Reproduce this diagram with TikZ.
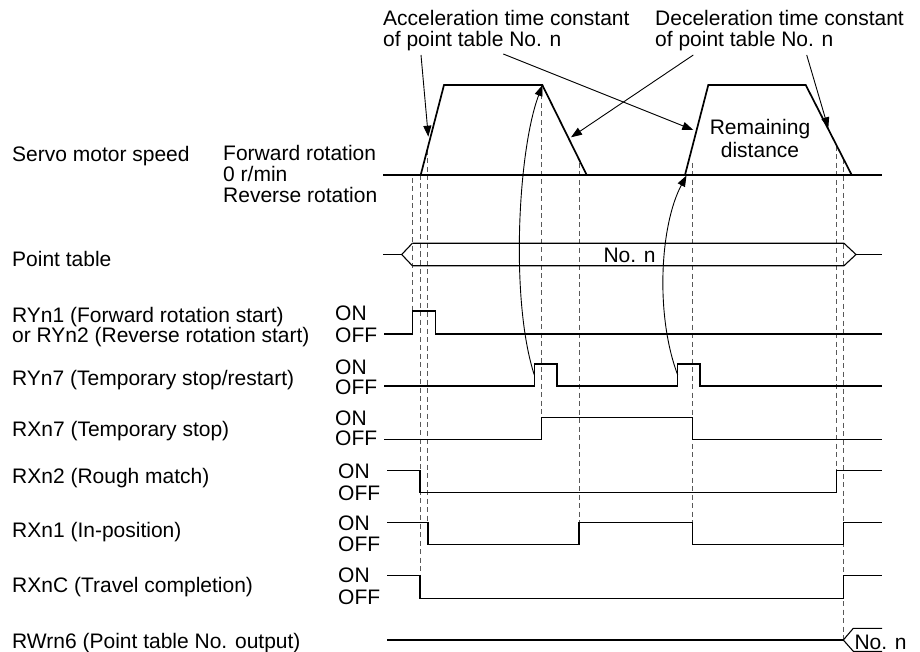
\documentclass[tikz,border=0pt]{standalone}
\usepackage{fontspec}
\setmainfont{Liberation Sans}
\usetikzlibrary{arrows.meta}

\tikzset{
  lbl/.style={anchor=base west, inner sep=0pt, font=\fontsize{21}{21}\selectfont},
  ctr/.style={anchor=base, inner sep=0pt, font=\fontsize{21}{21}\selectfont},
  axis/.style={line width=1.1pt},
  sig/.style={line width=1.3pt},
  prof/.style={line width=1.7pt, line join=miter},
  guide/.style={line width=1pt, draw=black!65, dash pattern=on 5pt off 3.5pt},
  ann/.style={line width=0.9pt, -{Triangle[length=11pt,width=8pt]}},
}

\begin{document}
\begin{tikzpicture}[x=1pt,y=-1pt]
\useasboundingbox (0,0) rectangle (920,652);

% Textos de la izquierda
\node[lbl] (spd) at (12,162) {Servo motor speed};
\node[lbl] (fwd) at (223,161) {Forward rotation};
\node[lbl] (zero) at (223,182) {0 r/min};
\node[lbl] (rev) at (223,203) {Reverse rotation};
\node[lbl] (ptab) at (12,266) {Point table};
\node[lbl] (ry1) at (12,322.5) {RYn1 (Forward rotation start)};
\node[lbl] (ry2) at (12,342.5) {or RYn2 (Reverse rotation start)};
\node[lbl] (ry7) at (12,385) {RYn7 (Temporary stop/restart)};
\node[lbl] (rx7) at (12,436.7) {RXn7 (Temporary stop)};
\node[lbl] (rx2) at (12,483.3) {RXn2 (Rough match)};
\node[lbl] (rx1) at (12,537.3) {RXn1 (In-position)};
\node[lbl] (rxc) at (12,592.7) {RXnC (Travel completion)};
\node[lbl] (rw6) at (12,648.3) {RWrn6 (Point table No. output)};

% ON / OFF
\node[lbl] (on1) at (335,320.7) {ON};
\node[lbl] (off1) at (335,342.3) {OFF};
\node[lbl] (on2) at (335,374.3) {ON};
\node[lbl] (off2) at (335,394) {OFF};
\node[lbl] (on3) at (335,425) {ON};
\node[lbl] (off3) at (335,445) {OFF};
\node[lbl] (on4) at (338,478.3) {ON};
\node[lbl] (off4) at (338,500) {OFF};
\node[lbl] (on5) at (338,530) {ON};
\node[lbl] (off5) at (338,551.7) {OFF};
\node[lbl] (on6) at (338,582.7) {ON};
\node[lbl] (off6) at (338,604) {OFF};

% Textos de arriba
\node[lbl] (acc1) at (383,26) {Acceleration time constant};
\node[lbl] (acc2) at (383,47) {of point table No. n};
\node[lbl] (dec1) at (655,26) {Deceleration time constant};
\node[lbl] (dec2) at (655,47) {of point table No. n};
\node[ctr] (rem1) at (760,135) {Remaining};
\node[ctr] (rem2) at (760,158) {distance};

% Lineas guia
\draw[guide] (412.3,178) -- (412.3,311);
\draw[guide] (420,175) -- (420,575.5);
\draw[guide] (427.3,150) -- (427.3,522.5);
\draw[guide] (541.7,86) -- (541.7,417.5);
\draw[guide] (579,163) -- (579,522.5);
\draw[guide] (692.3,163) -- (692.3,522.5);
\draw[guide] (836.7,146) -- (836.7,470.5);
\draw[guide] (843.3,159) -- (843.3,640);

% Velocidad
\draw[axis] (383,175) -- (882,175);
\draw[prof] (420.7,175) -- (444,85) -- (542.3,85) -- (586.7,175);
\draw[prof] (685,175) -- (708.3,85) -- (805.7,85) -- (851.7,175);

% Tabla de puntos
\draw[axis] (383,254.5) -- (401.7,254.5);
\draw[axis] (412.3,243.3) -- (401.7,254.5) -- (412.3,265.7);
\draw[axis] (412.3,243.3) -- (844,243.3) -- (856,254.5) -- (844,265.7) -- (412.3,265.7);
\draw[axis] (856,254.5) -- (882,254.5);
\node[lbl] (ptno) at (603.3,262.3) {No. n};

% Senales
\draw[sig] (384,334) -- (412.3,334) -- (412.3,311) -- (435.7,311) -- (435.7,334) -- (882,334);
\draw[sig] (384,386) -- (534.3,386) -- (534.3,364) -- (557,364) -- (557,386)
  -- (677.7,386) -- (677.7,364) -- (700,364) -- (700,386) -- (882,386);
\draw[sig] (384,439.5) -- (541.7,439.5) -- (541.7,417.5) -- (692.3,417.5) -- (692.3,439.5) -- (882,439.5);
\draw[sig] (387,470.5) -- (420,470.5) -- (420,492.3) -- (836.7,492.3) -- (836.7,470.5) -- (882,470.5);
\draw[sig] (387,522.5) -- (428,522.5) -- (428,544.3) -- (579,544.3) -- (579,522.5)
  -- (692.3,522.5) -- (692.3,544.3) -- (843.3,544.3) -- (843.3,522.5) -- (882,522.5);
\draw[sig] (387,575.5) -- (420,575.5) -- (420,598.7) -- (843.3,598.7) -- (843.3,575.5) -- (882,575.5);
\draw[sig] (387,640) -- (843.3,640);
\draw[axis] (882,628.3) -- (853.3,628.3) -- (843.3,640) -- (853.3,651.3) -- (882,651.3);
\node[lbl] (rwno) at (854.3,649) {No. n};

% Flechas
\coordinate (accA) at (421,55);
\coordinate (accB) at (503.3,54);
\coordinate (decA) at (693.3,55);
\coordinate (decB) at (806.7,55);
\coordinate (up1) at (428.3,136.7);
\coordinate (up2) at (693.3,130);
\coordinate (dn1) at (571,137.3);
\coordinate (dn2) at (828.3,128.3);
\draw[ann] (accA) -- (up1);
\draw[ann] (accB) -- (up2);
\draw[ann] (decA) -- (dn1);
\draw[ann] (decB) -- (dn2);

% Flechas curvas
\coordinate (stop1) at (534.3,375);
\coordinate (top1) at (542.5,85);
\coordinate (stop2) at (677.7,375);
\coordinate (top2) at (686.5,175.5);
\draw[ann] (stop1) .. controls (510,300) and (518,150) .. (top1);
\draw[ann] (stop2) .. controls (655,315) and (660,225) .. (top2);

\end{tikzpicture}
\end{document}
